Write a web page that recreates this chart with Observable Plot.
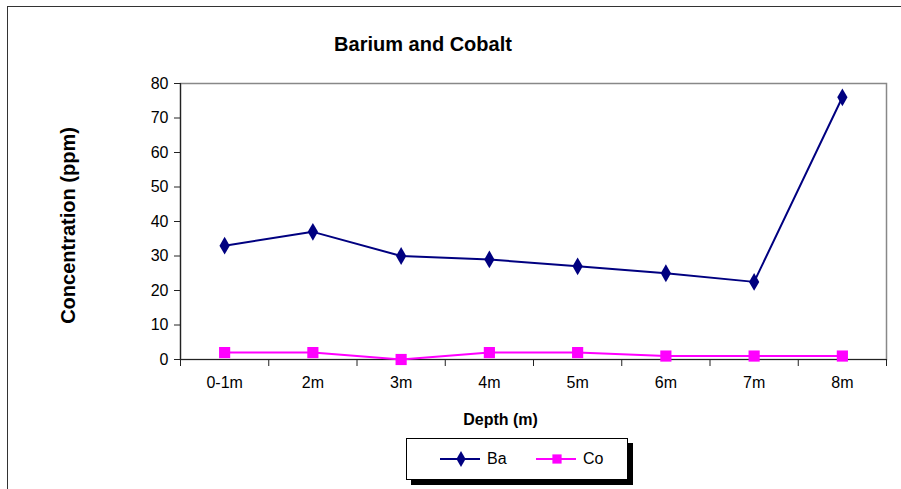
<!DOCTYPE html>
<html>
<head>
<meta charset="utf-8">
<script src="https://cdn.jsdelivr.net/npm/d3@7"></script>
<script src="https://cdn.jsdelivr.net/npm/@observablehq/plot@0.6"></script>
<style>
  html, body { margin: 0; padding: 0; background: #fff; }
  #wrap { position: relative; width: 901px; height: 489px; overflow: hidden; font-family: "Liberation Sans", Arial, sans-serif; }
  #outer { position: absolute; left: 7px; top: 6px; width: 1000px; height: 1000px; border-left: 1px solid #333; border-top: 1px solid #333; }
  #title { position: absolute; left: 0; width: 846px; top: 33px; text-align: center; font-weight: bold; font-size: 20px; color: #000; }
  #legend { position: absolute; left: 406px; top: 438px; width: 220px; height: 40px; border: 1px solid #000; background: #fff; box-shadow: 5px 5px 0 #000; }
  #legend .item { position: absolute; top: 0; height: 40px; display: flex; align-items: center; font-size: 16px; color: #000; }
  #chart { position: absolute; left: 0; top: 0; }
</style>
</head>
<body>
<div id="wrap">
  <div id="outer"></div>
  <div id="chart"></div>
  <div id="title"></div>
  <div id="legend"></div>
</div>
<script>
// ---- data ----
const title = "Barium and Cobalt";
const xLabel = "Depth (m)";
const yLabel = "Concentration (ppm)";
const depths = ["0-1m", "2m", "3m", "4m", "5m", "6m", "7m", "8m"];
const barium = [33, 37, 30, 29, 27, 25, 22.5, 76];
const cobalt = [2, 2, 0, 2, 2, 1, 1, 1];
const yTicks = [0, 10, 20, 30, 40, 50, 60, 70, 80];
const seriesNames = ["Ba", "Co"];
const seriesColors = ["#000080", "#FF00FF"];
const seriesSymbols = ["diamond", "square"];
const seriesValues = [barium, cobalt];
const markerR = [5.4, 6.3];

// ---- table ----
const rows = [];
seriesNames.forEach((name, s) => {
  depths.forEach((d, i) => rows.push({series: name, depth: d, idx: i + 0.5, value: seriesValues[s][i]}));
});

const n = depths.length;
const chart = Plot.plot({
  width: 901,
  height: 489,
  marginLeft: 180,
  marginRight: 15,
  marginTop: 83,
  marginBottom: 130,
  style: { fontFamily: "'Liberation Sans', Arial, sans-serif", fontSize: "16px", color: "#000", background: "transparent" },
  x: { domain: [0, n], axis: null },
  y: { domain: [0, 80], axis: null },
  color: { domain: seriesNames, range: seriesColors },
  symbol: { domain: seriesNames, range: seriesSymbols },
  marks: [
    Plot.frame({ stroke: "#888", strokeWidth: 1.5 }),
    Plot.ruleX([0], { stroke: "#222", strokeWidth: 1.2 }),
    Plot.ruleY([0], { stroke: "#222", strokeWidth: 1.2 }),
    Plot.axisY(yTicks, { tickSize: 6, tickPadding: 6, stroke: "#222", label: null, fontSize: 16 }),
    Plot.axisX(d3.range(0, n + 1), { tickSize: 7, tickFormat: () => "", stroke: "#222", label: null }),
    Plot.axisX(depths.map((d, i) => i + 0.5), { tickSize: 0, tickPadding: 17, tickFormat: (v) => depths[Math.floor(v)], label: null, fontSize: 16 }),
    Plot.text([yLabel], { frameAnchor: "left", textAnchor: "middle", lineAnchor: "middle", rotate: -90, dx: -112, dy: 4, fontWeight: "bold", fontSize: 20, letterSpacing: "0.6px" }),
    Plot.text([xLabel], { frameAnchor: "bottom", lineAnchor: "bottom", dx: -33, dy: 65, fontWeight: "bold", fontSize: 16 }),
    Plot.line(rows, { x: "idx", y: "value", z: "series", stroke: "series", strokeWidth: 2 }),
    ...seriesNames.map((name, s) =>
      Plot.dot(rows.filter((d) => d.series === name), { x: "idx", y: "value", symbol: "series", fill: "series", r: markerR[s], stroke: "none" })
    )
  ]
});
document.getElementById("chart").appendChild(chart);
document.getElementById("title").textContent = title;

// ---- legend ----
const legend = document.getElementById("legend");
const itemLeft = [33, 129];
seriesNames.forEach((name, s) => {
  const item = document.createElement("div");
  item.className = "item";
  item.style.left = itemLeft[s] + "px";
  const svg = d3.create("svg").attr("width", 44).attr("height", 20).style("margin-right", "3px");
  svg.append("line").attr("x1", 0).attr("x2", 40).attr("y1", 10).attr("y2", 10).attr("stroke", seriesColors[s]).attr("stroke-width", 2);
  const sym = seriesSymbols[s] === "diamond" ? d3.symbolDiamond : d3.symbolSquare;
  const r = s === 0 ? 4.8 : 5.2;
  svg.append("path").attr("d", d3.symbol(sym, Math.PI * r * r)()).attr("transform", "translate(21,10)").attr("fill", seriesColors[s]);
  item.appendChild(svg.node());
  const label = document.createElement("span");
  label.textContent = name;
  item.appendChild(label);
  legend.appendChild(item);
});
</script>
</body>
</html>
